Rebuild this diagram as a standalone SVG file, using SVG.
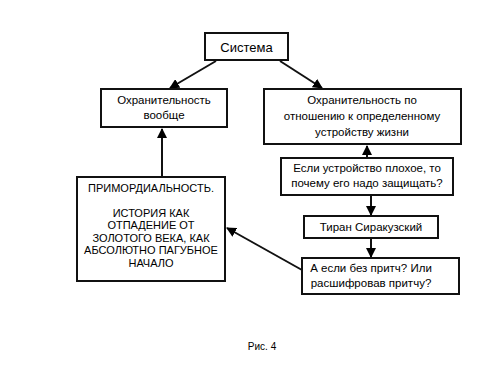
<svg xmlns="http://www.w3.org/2000/svg" width="500" height="375" viewBox="0 0 500 375">
<style>
.box{fill:#fff;stroke:#111;stroke-width:2}
.t{font-family:"Liberation Sans",Arial,sans-serif;font-size:11.5px;fill:#000;text-anchor:middle}
.c{stroke:#111;stroke-width:2;fill:none;marker-end:url(#ah)}
</style>
<defs>
<marker id="ah" viewBox="0 0 10 10" refX="9" refY="5" markerWidth="5" markerHeight="5" orient="auto" markerUnits="strokeWidth">
<path d="M0,0 L10,5 L0,10 z" fill="#000"/>
</marker>
</defs>
<rect width="500" height="375" fill="#fff"/>
<g id="connectors">
<line class="c" x1="216" y1="61" x2="170" y2="88"/>
<line class="c" x1="280" y1="61" x2="322" y2="88"/>
<line class="c" x1="162" y1="177" x2="162" y2="129"/>
<line class="c" x1="367" y1="158" x2="367" y2="146"/>
<line class="c" x1="371" y1="196" x2="371" y2="215"/>
<line class="c" x1="371" y1="239" x2="371" y2="257"/>
<line class="c" x1="302" y1="270" x2="227" y2="228"/>
</g>
<g id="sistema">
<rect class="box" x="205" y="33" width="83" height="27"/>
<text class="t" x="246.5" y="52" style="font-size:13px">Система</text>
</g>
<g id="ohr-voobshe">
<rect class="box" x="101" y="89" width="126" height="38"/>
<text class="t" x="164" y="104">Охранительность</text>
<text class="t" x="164" y="119">вообще</text>
</g>
<g id="ohr-ustr">
<rect class="box" x="264" y="89" width="197" height="55"/>
<text class="t" x="362" y="104">Охранительность по</text>
<text class="t" x="362" y="120">отношению к определенному</text>
<text class="t" x="362" y="136">устройству жизни</text>
</g>
<g id="esli">
<rect class="box" x="281" y="158" width="172" height="37"/>
<text class="t" x="367" y="172">Если устройство плохое, то</text>
<text class="t" x="367" y="187">почему его надо защищать?</text>
</g>
<g id="tiran">
<rect class="box" x="304" y="216" width="134" height="22"/>
<text class="t" x="371" y="231">Тиран Сиракузский</text>
</g>
<g id="pritch">
<rect class="box" x="302" y="258" width="157" height="36"/>
<text class="t" x="371" y="272">А если без притч? Или</text>
<text class="t" x="371" y="287">расшифровав притчу?</text>
</g>
<g id="primord">
<rect class="box" x="77" y="177" width="148" height="104"/>
<g class="t" style="font-size:11px">
<text x="151" y="192">ПРИМОРДИАЛЬНОСТЬ.</text>
<text x="151" y="217">ИСТОРИЯ КАК</text>
<text x="151" y="229">ОТПАДЕНИЕ ОТ</text>
<text x="151" y="242">ЗОЛОТОГО ВЕКА, КАК</text>
<text x="151" y="254">АБСОЛЮТНО ПАГУБНОЕ</text>
<text x="151" y="267">НАЧАЛО</text>
</g>
</g>
<text class="t" x="262" y="350" style="font-size:10px">Рис. 4</text>
</svg>
